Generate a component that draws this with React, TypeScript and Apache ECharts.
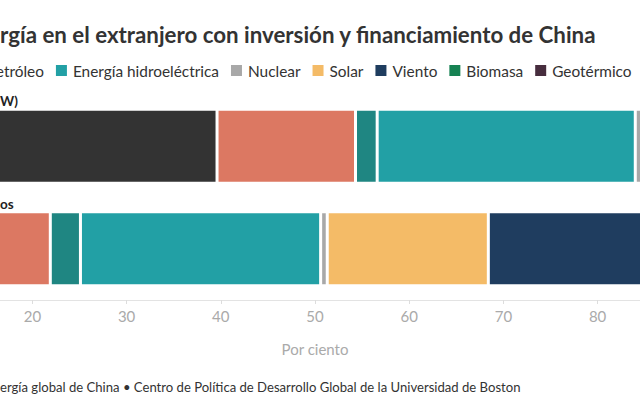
import React, { useEffect, useRef } from "react";
import * as echarts from "echarts";

// ---- data ----
const categories = ["W)", "os"];
const seriesNames = [
  "Carbón",
  "Gas",
  "Petróleo",
  "Energía hidroeléctrica",
  "Nuclear",
  "Solar",
  "Viento",
  "Biomasa",
  "Geotérmico",
];
// share (%) per source, row 1 and row 2
const rowCapacity = [39.6, 14.7, 2.3, 27.4, 2.0, 6.5, 6.5, 0.5, 0.5];
const rowProjects = [12.0, 9.9, 3.2, 25.5, 0.7, 17.1, 26.0, 4.0, 1.6];
const legendItems = seriesNames.slice(2);
const xTicks = [20, 30, 40, 50, 60, 70, 80];
const titleText = "rgía en el extranjero con inversión y financiamiento de China";
const footerText =
  "ergía global de China • Centro de Política de Desarrollo Global de la Universidad de Boston";
const axisName = "Por ciento";

// ---- style ----
const palette = [
  "#333333",
  "#dc7862",
  "#1f8682",
  "#22a0a5",
  "#a8a8a8",
  "#f4bb67",
  "#1f3d5f",
  "#168253",
  "#472d3e",
];
const FONT = "Lato, 'Noto Sans', sans-serif";
// the drawing is wider than the window; the window shows a part of it
const SHIFT = 200; // page x = chart x - SHIFT
const CHART_W = 1040;

export default function App() {
  const ref = useRef<HTMLDivElement>(null);

  useEffect(() => {
    if (!ref.current) return;
    const chart = echarts.init(ref.current, null, { renderer: "svg" });
    const option: any = {
      animation: false,
      textStyle: { fontFamily: FONT },
      title: [
        {
          text: titleText,
          left: SHIFT,
          top: 23,
          padding: 0,
          textStyle: { fontFamily: FONT, fontSize: 22.3, fontWeight: "bold", color: "#333333" },
        },
        {
          text: footerText,
          left: SHIFT,
          top: 380,
          padding: 0,
          textStyle: { fontFamily: FONT, fontSize: 13.1, fontWeight: "normal", color: "#333333" },
        },
      ],
      legend: {
        data: legendItems,
        left: SHIFT - 32,
        top: 63,
        padding: 0,
        itemWidth: 13,
        itemHeight: 13,
        itemGap: 10,
        icon: "rect",
        textStyle: { fontFamily: FONT, fontSize: 15.4, color: "#333333" },
      },
      grid: { left: SHIFT - 156, width: 942, top: 95, height: 205, containLabel: false },
      xAxis: {
        type: "value",
        min: 0,
        max: 100,
        interval: 10,
        name: axisName,
        nameLocation: "middle",
        nameGap: 41,
        nameTextStyle: { fontFamily: FONT, fontSize: 15, color: "#aaaaaa" },
        axisLine: { show: true, lineStyle: { color: "#e3e3e3", width: 1 } },
        axisTick: { show: true, customValues: xTicks, length: 4, lineStyle: { color: "#dddddd" } },
        axisLabel: {
          customValues: xTicks,
          fontFamily: FONT,
          fontSize: 15,
          color: "#aaaaaa",
          margin: 8,
        },
        splitLine: { show: false },
      },
      yAxis: {
        type: "category",
        data: categories,
        inverse: true,
        axisLine: { show: false },
        axisTick: { show: false },
        axisLabel: { show: false },
      },
      series: seriesNames.map((name, i) => ({
        name,
        type: "bar",
        stack: "total",
        barWidth: 74,
        data: [rowCapacity[i], rowProjects[i]],
        itemStyle: { color: palette[i], borderColor: "#ffffff", borderWidth: 1.5 },
        label:
          i === 0
            ? {
                show: true,
                formatter: "{b}",
                position: [156, -8],
                align: "left",
                verticalAlign: "middle",
                fontFamily: FONT,
                fontSize: 13.5,
                fontWeight: "bold",
                color: "#222222",
              }
            : { show: false },
      })),
    };
    chart.setOption(option);
    return () => chart.dispose();
  }, []);

  return (
    <div
      ref={ref}
      style={{
        position: "fixed",
        left: -SHIFT,
        top: 0,
        width: CHART_W,
        height: 407,
        background: "#ffffff",
      }}
    />
  );
}
